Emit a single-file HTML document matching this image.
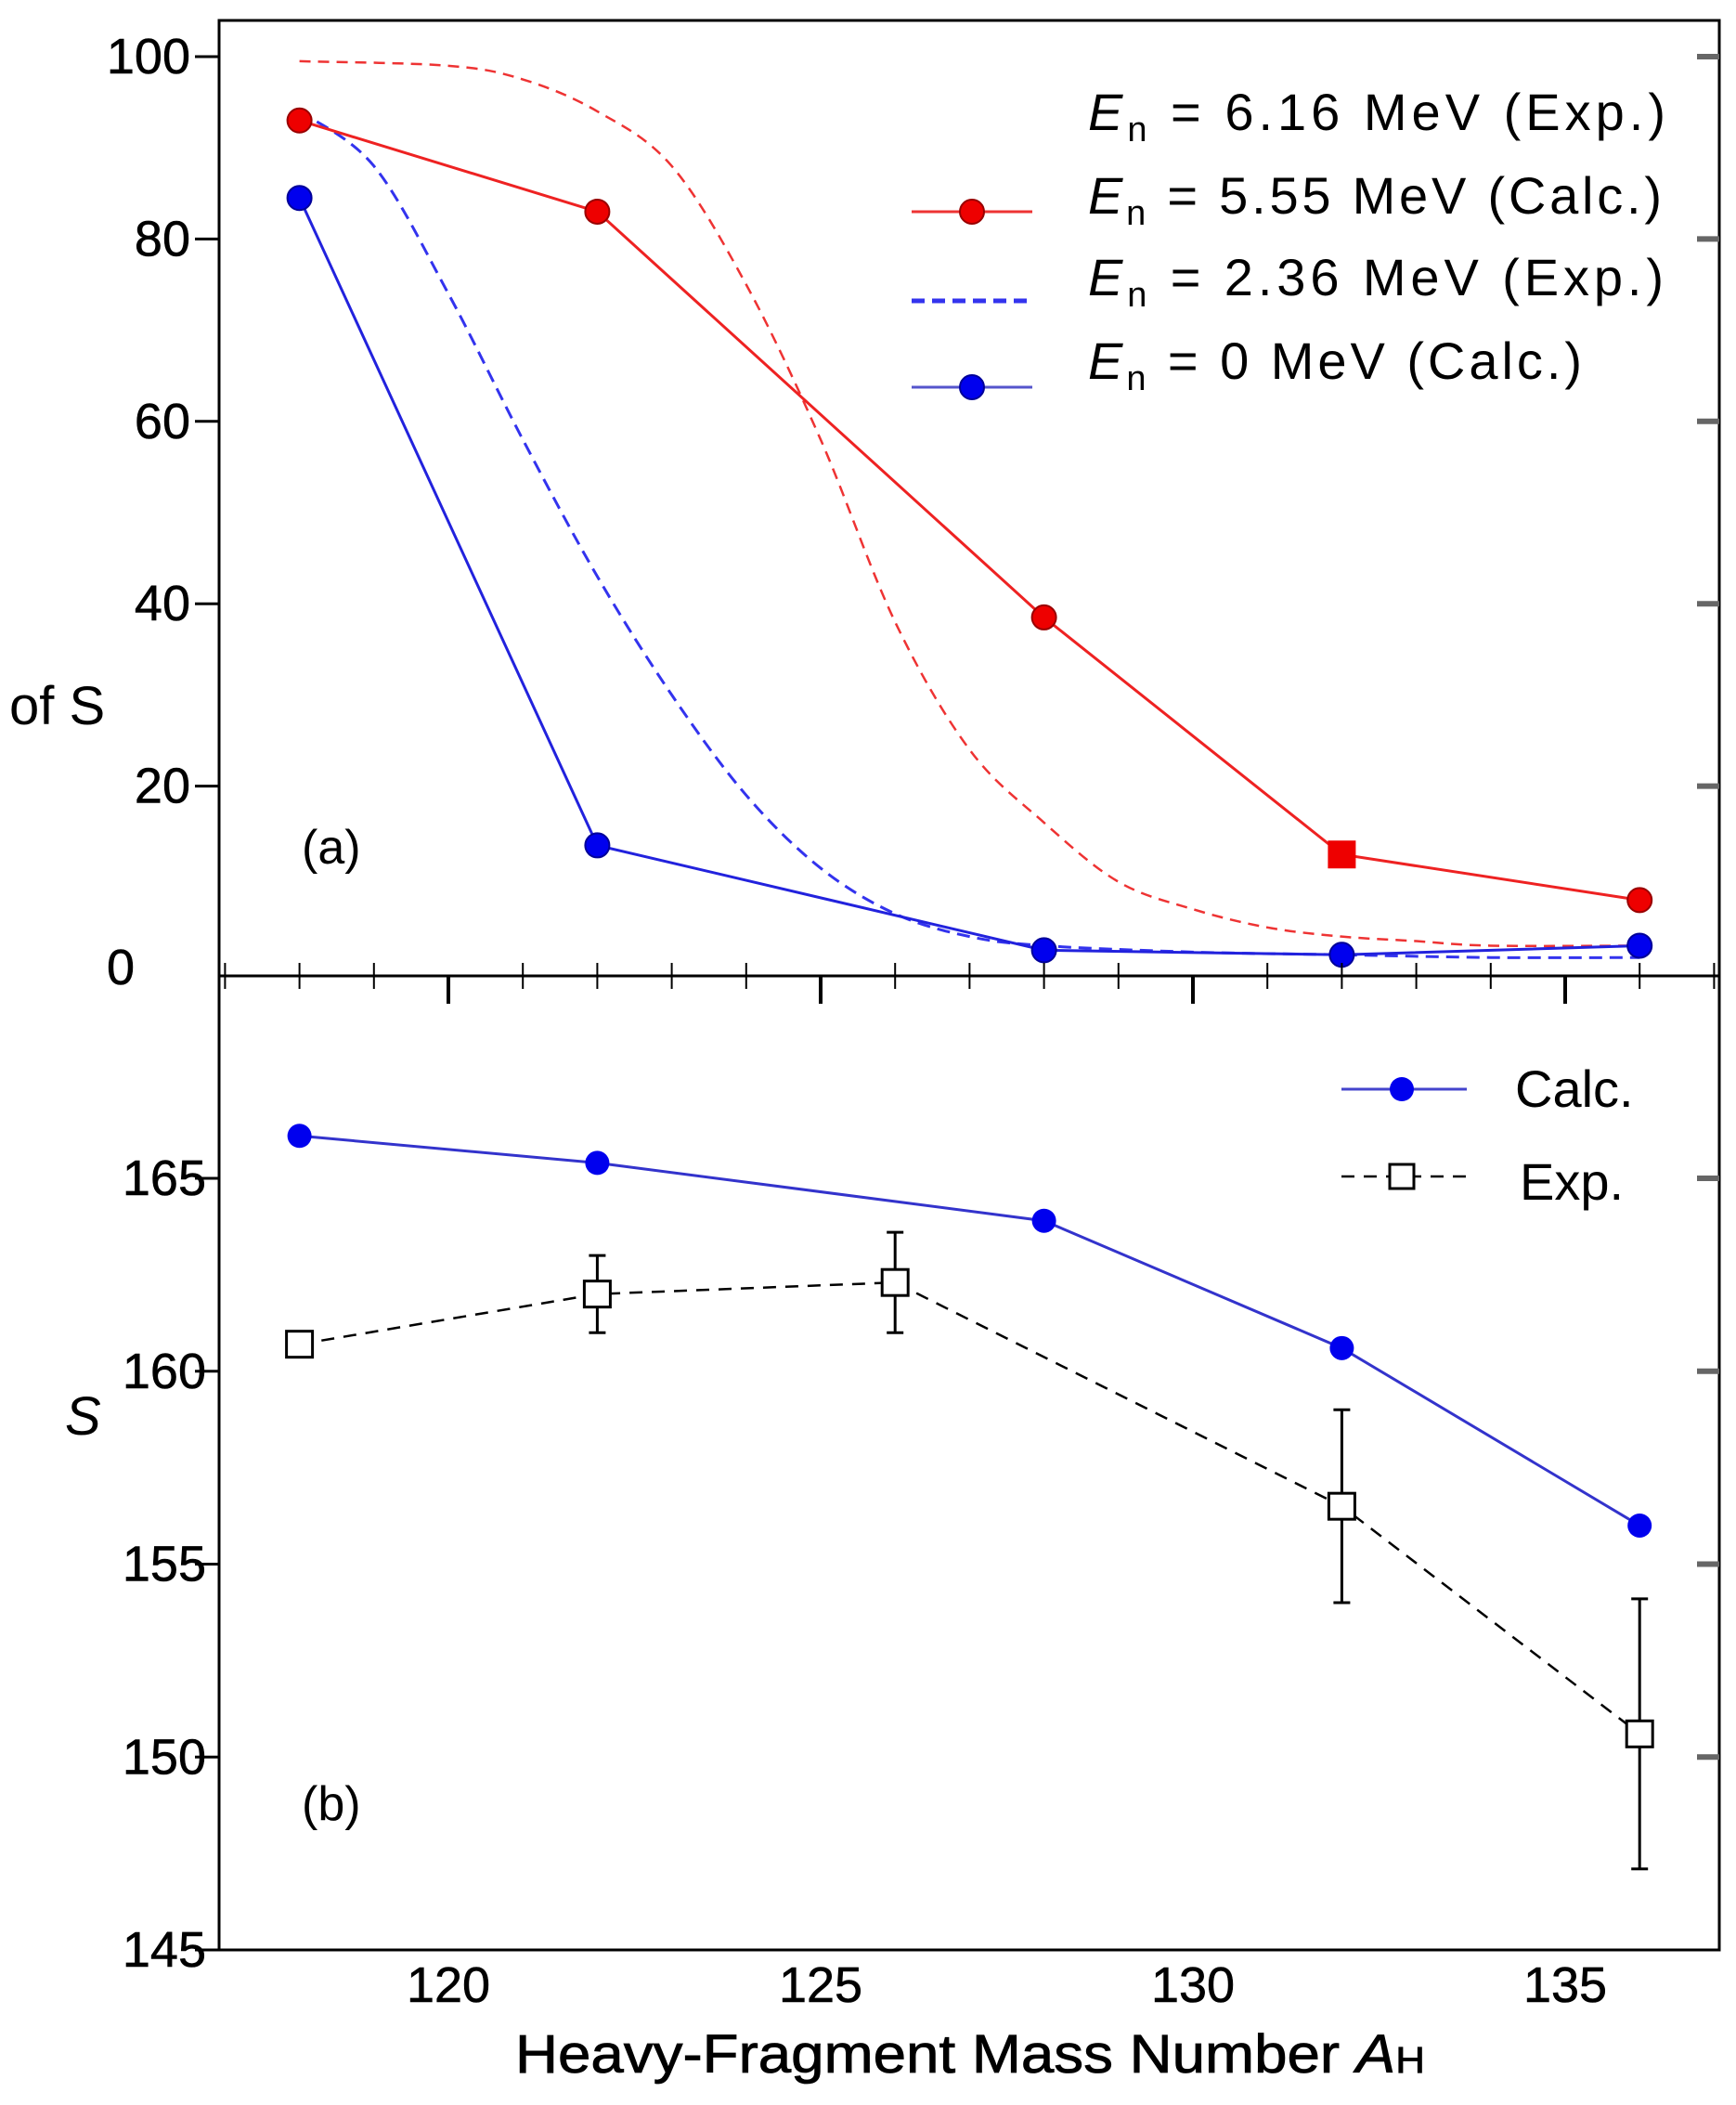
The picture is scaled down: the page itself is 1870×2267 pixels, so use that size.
<!DOCTYPE html>
<html><head><meta charset="utf-8"><style>
body{margin:0;background:#fff}
svg text{font-family:"Liberation Sans",sans-serif;fill:#000}
</style></head><body>
<svg width="1870" height="2262" viewBox="0 0 1870 2262" xmlns="http://www.w3.org/2000/svg" id="chart">
<rect x="236" y="22" width="1616" height="2078" fill="none" stroke="#000" stroke-width="3"/>
<line x1="236" y1="1051" x2="1852" y2="1051" stroke="#000" stroke-width="3"/>
<g id="ga"></g>
<g id="gb"></g>
<text x="325" y="930" font-size="52">(a)</text>
<text x="325" y="1960" font-size="52">(b)</text>
<text x="10" y="780" font-size="58">of S</text>
<text x="70" y="1545" font-size="58" font-style="italic">S</text>
<text x="555" y="2232" font-size="58" textLength="980" lengthAdjust="spacingAndGlyphs" stroke="#000" stroke-width="0.8">Heavy-Fragment  Mass  Number <tspan font-style="italic">A</tspan><tspan font-size="40">H</tspan></text>
<g font-size="56">
<text x="1172" y="140" textLength="622"><tspan font-style="italic">E</tspan><tspan font-size="38" dy="12">n</tspan><tspan dy="-12"> = 6.16 MeV (Exp.)</tspan></text>
<line x1="982" y1="228" x2="1112" y2="228" stroke="#e33" stroke-width="3"/><circle cx="1047" cy="228" r="13" fill="#e00" stroke="#900" stroke-width="2"/>
<text x="1172" y="230" textLength="618"><tspan font-style="italic">E</tspan><tspan font-size="38" dy="12">n</tspan><tspan dy="-12"> = 5.55 MeV (Calc.)</tspan></text>
<line x1="982" y1="324" x2="1112" y2="324" stroke="#33e" stroke-width="5" stroke-dasharray="14 8"/>
<text x="1172" y="318" textLength="620"><tspan font-style="italic">E</tspan><tspan font-size="38" dy="12">n</tspan><tspan dy="-12"> = 2.36 MeV (Exp.)</tspan></text>
<line x1="982" y1="417" x2="1112" y2="417" stroke="#55c" stroke-width="3"/><circle cx="1047" cy="417" r="13" fill="#00e" stroke="#009" stroke-width="2"/>
<text x="1172" y="408" textLength="532"><tspan font-style="italic">E</tspan><tspan font-size="38" dy="12">n</tspan><tspan dy="-12"> = 0 MeV (Calc.)</tspan></text>
</g>
<g font-size="56">
<line x1="1445" y1="1173" x2="1580" y2="1173" stroke="#44c" stroke-width="3"/><circle cx="1510" cy="1173" r="13" fill="#00e"/>
<text x="1632" y="1192">Calc.</text>
<line x1="1445" y1="1267" x2="1580" y2="1267" stroke="#000" stroke-width="2.5" stroke-dasharray="14 10"/><rect x="1497" y="1254" width="26" height="26" fill="#fff" stroke="#000" stroke-width="3"/>
<text x="1637" y="1292">Exp.</text>
</g>
</svg>
<script>
const xVals=[118,122,128,132,136];
const redCalc=[93,83,38.5,12.5,7.5];
const blueCalc=[84.5,13.5,2,1.5,2.5];
const redExpX=[118,120,121,122,123,124,125,126,127,128,129,130,131,132,133,134,136];
const redExpY=[99.5,99,97.5,94,88,75,58,38,24,16,9.5,6.5,4.5,3.5,3,2.5,2.5];
const blueExpX=[118,119,120,121,122,123,124,125,126,127,128,130,132,134,136];
const blueExpY=[94,88,74,58,43,30,19,11,6,3.5,2.5,1.8,1.5,1.2,1.2];
const bCalcX=[118,122,128,132,136];
const bCalcY=[166.1,165.4,163.9,160.6,156.0];
const bExpX=[118,122,126,132,136];
const bExpY=[160.7,162.0,162.3,156.5,150.6];
const bExpHi=[160.7,163.0,163.6,159.0,154.1];
const bExpLo=[160.7,161.0,161.0,154.0,147.1];
const aTicks=[0,20,40,60,80,100];
const bTicks=[145,150,155,160,165];
const xTicks=[120,125,130,135];
const NS='http://www.w3.org/2000/svg';
const X=v=>483+(v-120)*80.2;
const YA=v=>1043-v*9.82;
const YB=v=>1269+(165-v)*41.55;
const ga=document.getElementById('ga'),gb=document.getElementById('gb'),svg=document.getElementById('chart');
function mk(p,t,a){const e=document.createElementNS(NS,t);for(const k in a)e.setAttribute(k,a[k]);p.appendChild(e);return e;}
function line(p,xs,ys,Y,st,w,da,name){const d=xs.map((x,i)=>(i?'L':'M')+X(x)+','+Y(ys[i])).join(' ');const e=mk(p,'path',{d:d,fill:'none',stroke:st,'stroke-width':w});if(da)e.setAttribute('stroke-dasharray',da);

}
function smooth(p,xs,ys,Y,st,w,da,name){let d='M'+X(xs[0])+','+Y(ys[0]);for(let i=0;i<xs.length-1;i++){const p0=i?i-1:i,p3=i+2<xs.length?i+2:i+1;const x1=X(xs[i]),y1=Y(ys[i]),x2=X(xs[i+1]),y2=Y(ys[i+1]);const c1x=x1+(x2-X(xs[p0]))/6,c1y=y1+(y2-Y(ys[p0]))/6,c2x=x2-(X(xs[p3])-x1)/6,c2y=y2-(Y(ys[p3])-y1)/6;d+=` C${c1x},${c1y} ${c2x},${c2y} ${x2},${y2}`;}
const e=mk(p,'path',{d:d,fill:'none',stroke:st,'stroke-width':w,'stroke-dasharray':da});

}
aTicks.forEach(v=>{const y=YA(v);
if(v>0){const t=mk(ga,'line',{x1:236,y1:y,x2:210,y2:y,stroke:'#000','stroke-width':3});
const r=mk(ga,'line',{x1:1852,y1:y,x2:1828,y2:y,stroke:'#666','stroke-width':6});}
const l=mk(ga,'text',{x:v==0?145:205,y:v==0?y+17:y+18,'font-size':54,'text-anchor':'end',stroke:'#000','stroke-width':0.6});l.textContent=v;});
bTicks.forEach(v=>{const y=YB(v);
const t=mk(gb,'line',{x1:236,y1:y,x2:210,y2:y,stroke:'#000','stroke-width':3});
if(v>145){const r=mk(gb,'line',{x1:1852,y1:y,x2:1828,y2:y,stroke:'#666','stroke-width':6});}
const l=mk(gb,'text',{x:222,y:y+18,'font-size':54,'text-anchor':'end',stroke:'#000','stroke-width':0.6});l.textContent=v;});
for(let v=117;v<=137;v++){if(X(v)<240||X(v)>1848)continue;const maj=xTicks.includes(v);
const t=mk(svg,'line',{x1:X(v),y1:1051-(maj?0:14),x2:X(v),y2:1051+(maj?30:14),stroke:'#000','stroke-width':maj?4:2});}
xTicks.forEach(v=>{const l=mk(svg,'text',{x:X(v),y:2156,'font-size':54,'text-anchor':'middle',stroke:'#000','stroke-width':0.6});l.textContent=v;});
smooth(ga,redExpX,redExpY,YA,'#e33',2.5,'12 8','red-exp-curve');
smooth(ga,blueExpX,blueExpY,YA,'#33e',3,'14 8','blue-exp-curve');
line(ga,xVals,redCalc,YA,'#e22',3,null,'red-calc-line');
line(ga,xVals,blueCalc,YA,'#22d',3,null,'blue-calc-line');
xVals.forEach((x,i)=>{let m;if(x===132){m=mk(ga,'rect',{x:X(x)-15,y:YA(redCalc[i])-15,width:30,height:30,fill:'#e00'});}else m=mk(ga,'circle',{cx:X(x),cy:YA(redCalc[i]),r:13,fill:'#e00',stroke:'#900','stroke-width':2});


const b=mk(ga,'circle',{cx:X(x),cy:YA(blueCalc[i]),r:13,fill:'#00e',stroke:'#009','stroke-width':2});

});
line(gb,bCalcX,bCalcY,YB,'#33c',3,null,'calc-line');
line(gb,bExpX,bExpY,YB,'#000',2.5,'14 10','exp-line');
bExpX.forEach((x,i)=>{if(bExpHi[i]!==bExpLo[i]){const e=mk(gb,'path',{d:`M${X(x)},${YB(bExpHi[i])}V${YB(bExpLo[i])}M${X(x)-9},${YB(bExpHi[i])}h18M${X(x)-9},${YB(bExpLo[i])}h18`,stroke:'#000','stroke-width':3,fill:'none'});

}
const r=mk(gb,'rect',{x:X(x)-14,y:YB(bExpY[i])-14,width:28,height:28,fill:'#fff',stroke:'#000','stroke-width':3});

});
bCalcX.forEach((x,i)=>{const c=mk(gb,'circle',{cx:X(x),cy:YB(bCalcY[i]),r:13,fill:'#00e'});

});
</script>
</body></html>
